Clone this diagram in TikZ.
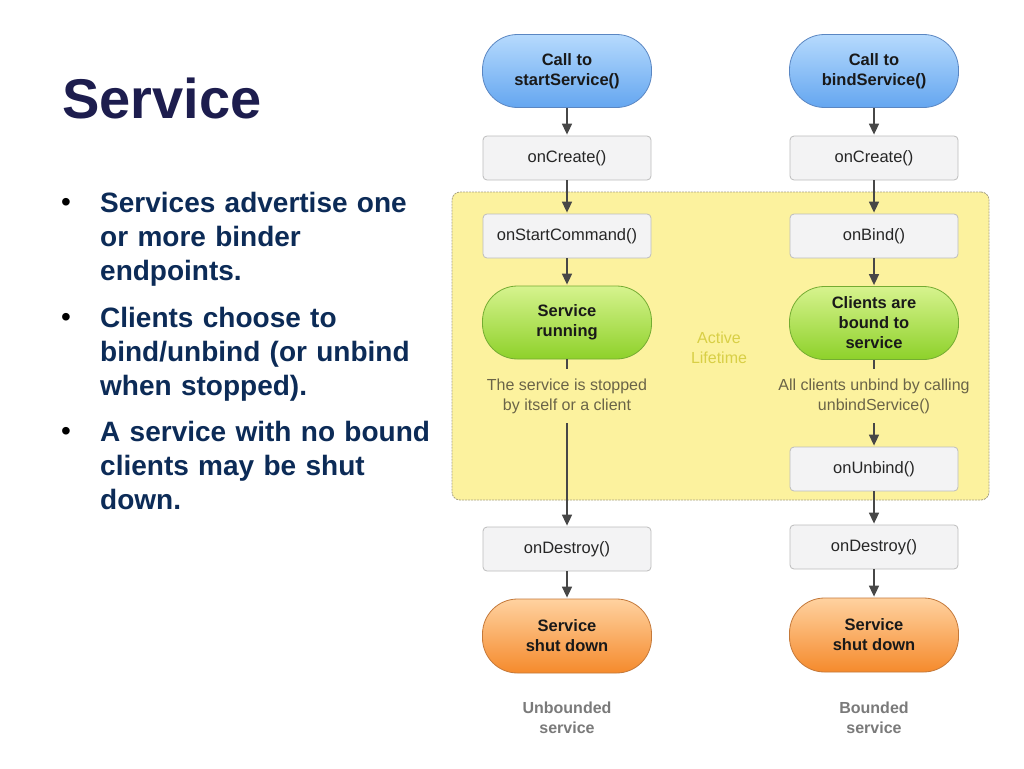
\documentclass[tikz,border=0pt]{standalone}
\usepackage{fontspec}
\setmainfont{Liberation Sans}
\usetikzlibrary{arrows.meta}
\definecolor{titlecol}{HTML}{1D1D4E}
\definecolor{bulletcol}{HTML}{0C2B57}
\definecolor{boxfill}{HTML}{F3F3F4}
\definecolor{boxborder}{HTML}{BDBDBD}
\definecolor{bluetop}{HTML}{B6DAFD}
\definecolor{bluebot}{HTML}{64A6F0}
\definecolor{bluebd}{HTML}{5A86C2}
\definecolor{greentop}{HTML}{D6F38E}
\definecolor{greenbot}{HTML}{8ED12A}
\definecolor{greenbd}{HTML}{74AC32}
\definecolor{orangetop}{HTML}{FFD2A0}
\definecolor{orangebot}{HTML}{F58A2C}
\definecolor{orangebd}{HTML}{C4793A}
\definecolor{lifefill}{HTML}{FCF29E}
\definecolor{lifebd}{HTML}{A7A184}
\definecolor{lifetext}{HTML}{D8CF46}
\definecolor{arrowcol}{HTML}{474747}
\definecolor{desccol}{HTML}{6A6448}
\definecolor{labelcol}{HTML}{7A7A7A}
\begin{document}
\begin{tikzpicture}[x=1pt,y=-1pt,
  box/.style={draw=boxborder, fill=boxfill, line width=0.8pt, rounded corners=4pt,
    minimum width=168pt, minimum height=44pt, inner sep=0pt,
    font=\fontsize{16.5}{20}\selectfont, text=black!85},
  capsule/.style={rounded corners=35pt, minimum width=169pt, minimum height=73pt,
    inner sep=0pt, align=center, line width=0.8pt,
    font=\bfseries\fontsize{16.5}{20}\selectfont, text=black!90},
  startcap/.style={capsule, draw=bluebd, top color=bluetop, bottom color=bluebot},
  runcap/.style={capsule, draw=greenbd, top color=greentop, bottom color=greenbot},
  endcap/.style={capsule, draw=orangebd, top color=orangetop, bottom color=orangebot},
  desc/.style={align=center, inner sep=0pt, minimum height=54pt,
    font=\fontsize{16}{20}\selectfont, text=desccol},
  caption/.style={align=center, inner sep=0pt,
    font=\bfseries\fontsize{16}{20}\selectfont, text=labelcol},
  arr/.style={draw=arrowcol, line width=1.6pt, -{Triangle[length=11pt,width=10pt]}, shorten >=1pt},
  link/.style={draw=arrowcol, line width=1.6pt},
  bullettext/.style={anchor=base west, inner sep=0pt, align=left, text width=340pt,
    font=\bfseries\fontsize{28}{34}\selectfont, text=bulletcol},
  bulletdot/.style={inner sep=0pt, font=\fontsize{28}{28}\selectfont, text=black}
]
\useasboundingbox[fill=white] (0,0) rectangle (1024,768);

% left text
\node[anchor=base west, inner sep=0pt, font=\bfseries\fontsize{56}{60}\selectfont, text=titlecol] (title) at (62,118) {Service};
\node[bulletdot] (bu1) at (66,205) {•};
\node[bullettext] (p1) at (100,212) {Services advertise one\\or more binder\\endpoints.};
\node[bulletdot] (bu2) at (66,320) {•};
\node[bullettext] (p2) at (100,327) {Clients choose to\\bind/unbind (or unbind\\when stopped).};
\node[bulletdot] (bu3) at (66,434) {•};
\node[bullettext] (p3) at (100,441) {A service with no bound\\clients may be shut\\down.};

% active lifetime region
\node[draw=lifebd, fill=lifefill, line width=0.8pt, dash pattern=on 2pt off 1pt,
  rounded corners=8pt, minimum width=537pt, minimum height=308pt, inner sep=0pt] (life) at (720.5,346) {};
\node[align=center, inner sep=0pt, font=\fontsize{16}{20}\selectfont, text=lifetext] (lifelabel) at (719,348) {Active\\Lifetime};

% left column
\node[startcap] (s1) at (567,71) {Call to\\startService()};
\node[box] (c1) at (567,158) {onCreate()};
\node[box] (sc) at (567,236) {onStartCommand()};
\node[runcap] (run) at (567,322.5) {Service\\running};
\node[desc] (t1) at (567,396) {The service is stopped\\by itself or a client};
\node[box] (d1) at (567,549) {onDestroy()};
\node[endcap, minimum height=74pt] (x1) at (567,636) {Service\\shut down};
\node[caption] (l1) at (567,718) {Unbounded\\service};

% right column
\node[startcap] (b1) at (874,71) {Call to\\bindService()};
\node[box] (c2) at (874,158) {onCreate()};
\node[box] (ob) at (874,236) {onBind()};
\node[runcap] (bound) at (874,323) {Clients are\\bound to\\service};
\node[desc] (t2) at (874,396) {All clients unbind by calling\\unbindService()};
\node[box] (ub) at (874,469) {onUnbind()};
\node[box] (d2) at (874,547) {onDestroy()};
\node[endcap, minimum height=74pt] (x2) at (874,635) {Service\\shut down};
\node[caption] (l2) at (874,718) {Bounded\\service};

% connectors
\draw[arr] (s1) -- (c1);
\draw[arr] (c1) -- (sc);
\draw[arr] (sc) -- (run);
\draw[link] (run) -- (t1);
\draw[arr] (t1) -- (d1);
\draw[arr] (d1) -- (x1);

\draw[arr] (b1) -- (c2);
\draw[arr] (c2) -- (ob);
\draw[arr] (ob) -- (bound);
\draw[link] (bound) -- (t2);
\draw[arr] (t2) -- (ub);
\draw[arr] (ub) -- (d2);
\draw[arr] (d2) -- (x2);
\end{tikzpicture}
\end{document}
